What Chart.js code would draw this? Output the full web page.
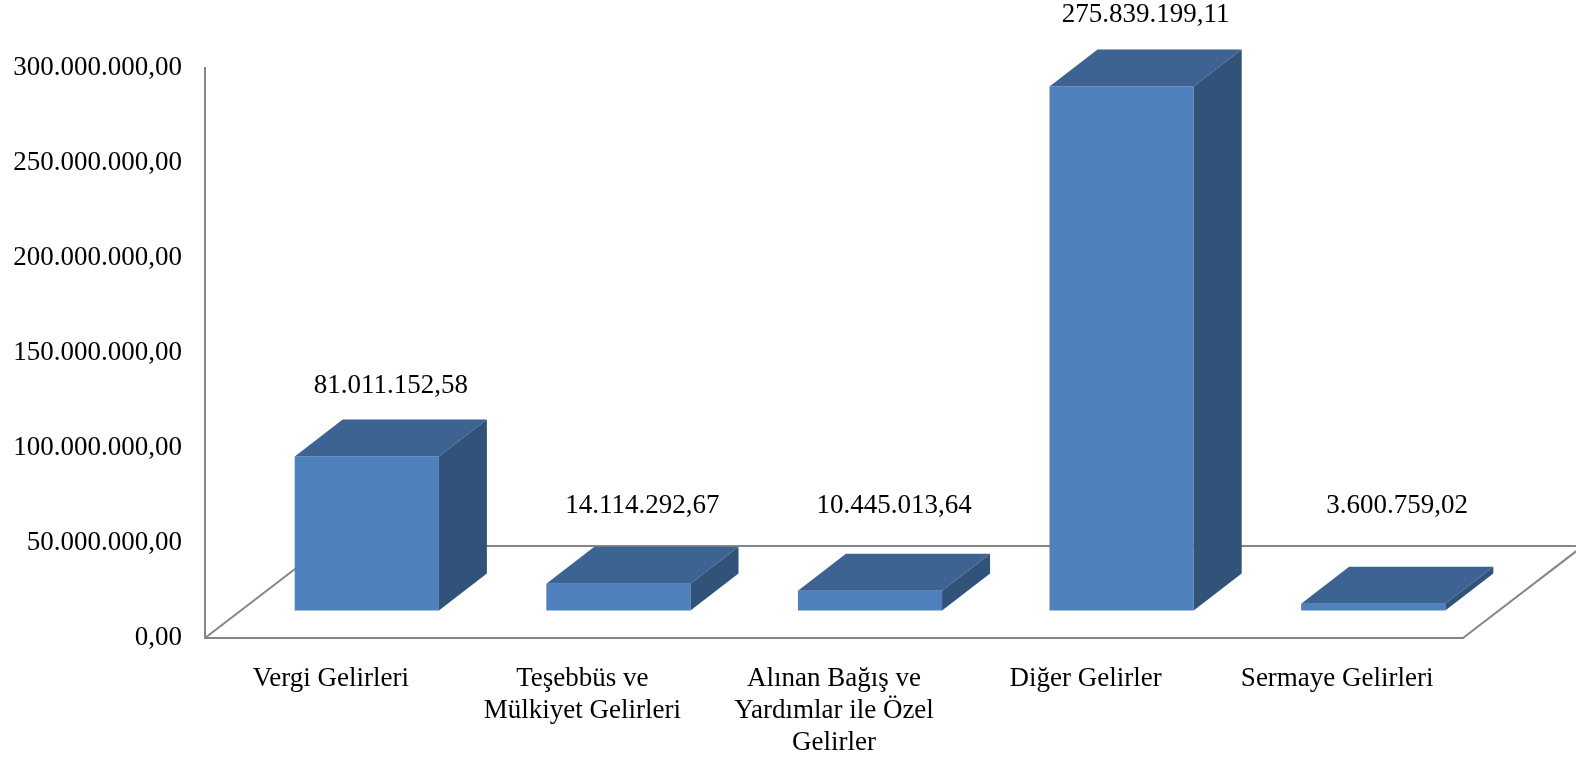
<!DOCTYPE html>
<html>
<head>
<meta charset="utf-8">
<script src="https://cdn.jsdelivr.net/npm/chart.js@4"></script>
<style>
  html, body { margin: 0; padding: 0; background: #fff; }
  #wrap { width: 1576px; height: 758px; position: relative; }
</style>
</head>
<body>
<div id="wrap"><canvas id="gelirChart"></canvas></div>
<script>
// Gelir kalemleri
const kategoriler = [
  ["Vergi Gelirleri"],
  ["Teşebbüs ve", "Mülkiyet Gelirleri"],
  ["Alınan Bağış ve", "Yardımlar ile Özel", "Gelirler"],
  ["Diğer Gelirler"],
  ["Sermaye Gelirleri"],
];
const tutarlar = [81011152.58, 14114292.67, 10445013.64, 275839199.11, 3600759.02];
const eksenMin = 0;
const eksenMax = 300000000;
const eksenAdim = 50000000;

const FONT = "'Liberation Serif', 'Times New Roman', serif";
const ON_RENK = "#4F81BD";
const UST_RENK = "#3C6391";
const YAN_RENK = "#31537A";
const CIZGI = "#868686";

// 3B görünüm: taban derinliği ve çubuk derinliği
const TABAN_DX = 120, TABAN_DY = 92;
const CUBUK_DX = 48, CUBUK_DY = 37;
const KAYMA_X = 36, KAYMA_Y = 27.5;

function trFormat(v) {
  const [tam, ondalik] = v.toFixed(2).split(".");
  return tam.replace(/\B(?=(\d{3})+(?!\d))/g, ".") + "," + ondalik;
}

const ucBoyut = {
  id: "ucBoyut",
  beforeDatasetsDraw(chart) {
    const { ctx, chartArea } = chart;
    const { left, right, bottom } = chartArea;
    // Taban
    ctx.save();
    ctx.strokeStyle = CIZGI;
    ctx.lineWidth = 2;
    ctx.beginPath();
    ctx.moveTo(left, bottom);
    ctx.lineTo(left + TABAN_DX, bottom - TABAN_DY);
    ctx.lineTo(right + TABAN_DX, bottom - TABAN_DY);
    ctx.moveTo(right, bottom);
    ctx.lineTo(right + TABAN_DX, bottom - TABAN_DY);
    ctx.stroke();
    ctx.restore();

    ctx.save();
    ctx.translate(KAYMA_X, -KAYMA_Y);
  },
  afterDatasetsDraw(chart) {
    const { ctx, chartArea } = chart;
    const meta = chart.getDatasetMeta(0);
    meta.data.forEach((bar, i) => {
      const x0 = bar.x - bar.width / 2;
      const x1 = bar.x + bar.width / 2;
      const yTop = bar.y;
      const yBot = bar.base;

      // Üst yüz
      ctx.fillStyle = UST_RENK;
      ctx.beginPath();
      ctx.moveTo(x0, yTop);
      ctx.lineTo(x0 + CUBUK_DX, yTop - CUBUK_DY);
      ctx.lineTo(x1 + CUBUK_DX, yTop - CUBUK_DY);
      ctx.lineTo(x1, yTop);
      ctx.closePath();
      ctx.fill();

      // Yan yüz
      ctx.fillStyle = YAN_RENK;
      ctx.beginPath();
      ctx.moveTo(x1, yTop);
      ctx.lineTo(x1 + CUBUK_DX, yTop - CUBUK_DY);
      ctx.lineTo(x1 + CUBUK_DX, yBot - CUBUK_DY);
      ctx.lineTo(x1, yBot);
      ctx.closePath();
      ctx.fill();
    });
    ctx.restore();

    // Değer etiketleri
    const tabanArka = chartArea.bottom - TABAN_DY;
    ctx.save();
    ctx.font = "27px " + FONT;
    ctx.fillStyle = "#000";
    ctx.textAlign = "center";
    ctx.textBaseline = "middle";
    meta.data.forEach((bar, i) => {
      const ustArka = bar.y - KAYMA_Y - CUBUK_DY;
      const y = Math.min(ustArka - 34, tabanArka - 40);
      const x = bar.x + KAYMA_X + 24;
      ctx.fillText(trFormat(tutarlar[i]), x, y);
    });
    ctx.restore();
  },
};

const ctx = document.getElementById("gelirChart").getContext("2d");
new Chart(ctx, {
  type: "bar",
  data: {
    labels: kategoriler,
    datasets: [
      {
        data: tutarlar,
        backgroundColor: ON_RENK,
        borderWidth: 0,
        barPercentage: 1,
        categoryPercentage: 0.573,
        clip: false,
      },
    ],
  },
  options: {
    responsive: true,
    maintainAspectRatio: false,
    animation: false,
    layout: { padding: { left: 0, top: 68, right: 113, bottom: 0 } },
    plugins: {
      legend: { display: false },
      tooltip: { enabled: false },
    },
    scales: {
      x: {
        grid: { display: false, drawTicks: false },
        border: { display: true, color: CIZGI, width: 2 },
        ticks: {
          color: "#000",
          font: { family: FONT, size: 27, lineHeight: 1.19 },
          padding: 25,
          autoSkip: false,
          maxRotation: 0,
          minRotation: 0,
        },
        afterFit: (s) => { s.height = 120; },
      },
      y: {
        min: eksenMin,
        max: eksenMax,
        grid: { display: false, drawTicks: false },
        border: { display: true, color: CIZGI, width: 2 },
        ticks: {
          stepSize: eksenAdim,
          color: "#000",
          font: { family: FONT, size: 27 },
          padding: 23,
          callback: (v) => trFormat(v),
        },
        afterFit: (s) => { s.width = 205; },
      },
    },
  },
  plugins: [ucBoyut],
});
</script>
</body>
</html>
